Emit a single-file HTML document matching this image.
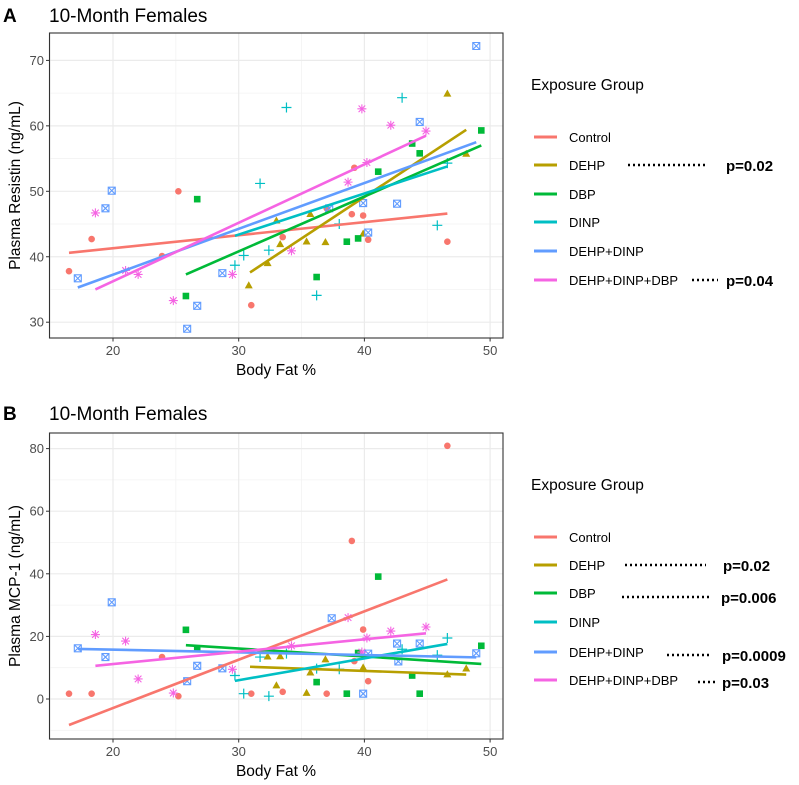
<!DOCTYPE html>
<html><head><meta charset="utf-8"><style>
body{margin:0;background:#fff;font-family:"Liberation Sans",Arial,sans-serif}
svg{display:block}
</style></head><body>
<svg id="c" width="799" height="785" viewBox="0 0 799 785"></svg>
<script>
const groups=["Control","DEHP","DBP","DINP","DEHP+DINP","DEHP+DINP+DBP"];
const colors=["#F8766D","#B79F00","#00BA38","#00BFC4","#619CFF","#F564E3"];
const shapes=["circle","triangle","square","plus","boxx","star"];
// Panel A (Resistin)
const aCtrlX=[16.5,18.3,23.9,25.2,31.0,33.5,37.0,39.0,39.2,39.9,40.3,46.6];
const aCtrlY=[37.8,42.7,40.1,50.0,32.6,43.0,47.4,46.5,53.6,46.3,42.6,42.3];
const aDehpX=[30.8,32.3,33.0,33.3,35.4,35.7,36.9,39.9,46.6,48.1];
const aDehpY=[35.6,39.0,45.5,41.9,42.3,46.5,42.2,43.5,64.9,55.7];
const aDbpX=[25.8,26.7,36.2,38.6,39.5,41.1,43.8,44.4,49.3];
const aDbpY=[34.0,48.8,36.9,42.3,42.8,53.0,57.3,55.8,59.3];
const aDinpX=[33.8,31.7,32.4,29.7,30.4,36.2,38.0,43.0,45.8,46.6];
const aDinpY=[62.8,51.2,41.0,38.7,40.2,34.1,45.0,64.3,44.8,54.3];
const aDdX=[17.2,19.4,19.9,25.9,26.7,28.7,37.2,39.9,40.3,42.6,44.4,48.9];
const aDdY=[36.7,47.4,50.1,29.0,32.5,37.5,47.4,48.2,43.7,48.1,60.6,72.2];
const aDddX=[18.6,21.0,22.0,24.8,29.5,34.2,38.7,39.8,40.2,42.1,44.9];
const aDddY=[46.7,37.9,37.3,33.3,37.3,40.9,51.4,62.6,54.4,60.1,59.2];
const aFitX0=[16.5,30.9,25.8,29.7,17.2,18.6];
const aFitY0=[40.6,37.6,37.3,43.2,35.3,35.0];
const aFitX1=[46.6,48.1,49.3,46.6,48.9,44.9];
const aFitY1=[46.6,59.4,57.0,53.8,57.5,58.5];
// Panel B (MCP-1)
const bCtrlX=[16.5,18.3,23.9,25.2,31.0,33.5,37.0,39.0,39.2,39.9,40.3,46.6];
const bCtrlY=[1.7,1.7,13.4,0.9,1.7,2.3,1.7,50.5,12.1,22.2,5.7,80.9];
const bDehpX=[32.3,33.0,33.3,35.4,35.7,36.9,39.9,46.6,48.1];
const bDehpY=[13.5,4.3,13.6,1.9,8.4,12.6,10.0,7.8,9.7];
const bDbpX=[25.8,26.7,36.2,38.6,39.5,41.1,43.8,44.4,49.3];
const bDbpY=[22.1,16.1,5.4,1.7,14.7,39.1,7.5,1.7,17.0];
const bDinpX=[29.7,30.4,31.7,32.4,33.8,36.2,38.0,43.0,45.8,46.6];
const bDinpY=[7.5,1.7,13.4,0.9,14.5,9.7,9.5,15.9,14.0,19.5];
const bDdX=[17.2,19.4,19.9,25.9,26.7,28.7,37.4,39.9,40.3,42.6,42.7,44.4,48.9];
const bDdY=[16.2,13.4,30.9,5.7,10.6,9.8,25.8,1.7,14.5,17.7,12.0,17.7,14.6];
const bDddX=[18.6,21.0,22.0,24.8,29.5,34.2,38.7,39.8,40.2,42.1,44.9];
const bDddY=[20.6,18.5,6.4,1.9,9.5,17.0,26.0,15.0,19.5,21.7,23.0];
const bFitX0=[16.5,30.9,25.8,29.7,17.2,18.6];
const bFitY0=[-8.3,10.3,17.2,5.8,16.0,10.6];
const bFitX1=[46.6,48.1,49.3,46.6,48.9,44.9];
const bFitY1=[38.2,7.8,11.2,17.6,13.3,21.0];
const xTicks=[20,30,40,50];
const aYTicks=[30,40,50,60,70];
const bYTicks=[0,20,40,60,80];
const aP=["","p=0.02","","","","p=0.04"];
const bP=["","p=0.02","p=0.006","","p=0.0009","p=0.03"];

const NS="http://www.w3.org/2000/svg";
const svg=document.getElementById('c');
function el(tag,attrs,parent,text){const e=document.createElementNS(NS,tag);for(const k in attrs)e.setAttribute(k,attrs[k]);if(text!==undefined)e.textContent=text;(parent||svg).appendChild(e);return e;}

function panel(o){
  const g=el('g',{});
  
  
  const X=v=>113+(v-20)*12.57;
  const Y=v=>o.y0+(v-o.ymin)*o.k;
  el('rect',{x:49.5,y:o.top,width:453.5,height:o.bot-o.top,fill:'#fff'},g);
  for(let v=o.minorStart;v<=o.ymax;v+=o.minorStep){const y=Y(v);if(y>o.top&&y<o.bot)el('line',{x1:49.5,x2:503,y1:y,y2:y,stroke:'#f3f3f3','stroke-width':0.8},g);}
  [15,25,35,45].forEach(v=>el('line',{x1:X(v),x2:X(v),y1:o.top,y2:o.bot,stroke:'#f3f3f3','stroke-width':0.8},g));
  o.yt.forEach(v=>{const y=Y(v);el('line',{x1:49.5,x2:503,y1:y,y2:y,stroke:'#ebebeb','stroke-width':1.2},g);
    el('line',{x1:46,x2:49.5,y1:y,y2:y,stroke:'#333'},g);
    const t=el('text',{x:44,y:y+4.5,'text-anchor':'end','font-size':13,fill:'#4d4d4d'},g,String(v));
    });
  xTicks.forEach(v=>{const x=X(v);el('line',{x1:x,x2:x,y1:o.top,y2:o.bot,stroke:'#ebebeb','stroke-width':1.2},g);
    el('line',{x1:x,x2:x,y1:o.bot,y2:o.bot+3.5,stroke:'#333'},g);
    const t=el('text',{x:x,y:o.bot+17,'text-anchor':'middle','font-size':13,fill:'#4d4d4d'},g,String(v));
    });
  o.series.forEach((s,i)=>{
    const c=colors[i];
    const sg=el('g',{},g);
    
    
    s.x.forEach((xv,j)=>{const px=X(xv),py=Y(s.y[j]);drawShape(sg,shapes[i],px,py,c);});
  });
  o.series.forEach((s,i)=>{
    const l=el('line',{x1:X(o.fx0[i]),y1:Y(o.fy0[i]),x2:X(o.fx1[i]),y2:Y(o.fy1[i]),stroke:colors[i],'stroke-width':2.6},g);
    
  });
  el('rect',{x:49.5,y:o.top,width:453.5,height:o.bot-o.top,fill:'none',stroke:'#333','stroke-width':1.1},g);
  const xt=el('text',{x:276,y:o.bot+37,'text-anchor':'middle','font-size':15.5,fill:'#000'},g,'Body Fat %');
  
  const cy=(o.top+o.bot)/2;
  const yt=el('text',{x:0,y:0,'text-anchor':'middle','font-size':15.5,fill:'#000',transform:`translate(20,${cy}) rotate(-90)`},g,o.ytitle);
  
  const L=el('text',{x:3,y:o.titleY,'font-size':19,'font-weight':'bold',fill:'#000'},g,o.letter);
  
  const T=el('text',{x:49,y:o.titleY,'font-size':19,fill:'#000'},g,'10-Month Females');
  
  // legend
  const lg=el('g',{},g);
  
  el('text',{x:531,y:o.legY,'font-size':15.5,fill:'#000'},lg,'Exposure Group');
  groups.forEach((n,i)=>{
    const y=o.itemY[i];
    const eg=el('g',{},lg);
    
    el('line',{x1:534,x2:557,y1:y,y2:y,stroke:colors[i],'stroke-width':3},eg);
    const tt=el('text',{x:569,y:y+5,'font-size':13,fill:'#000'},eg,n);
    if(o.p[i]){
      const d=o.dots[i];
      el('line',{x1:d[0],x2:d[1],y1:y+o.pdy[i],y2:y+o.pdy[i],stroke:'#000','stroke-width':2.5,'stroke-dasharray':'2 3'},eg);
      el('text',{x:d[2],y:y+o.pdy[i]+6,'font-size':15,'font-weight':'bold',fill:'#000'},eg,o.p[i]);
    }
  });
}
function drawShape(g,s,x,y,c){
  let e;
  if(s==='circle')e=el('circle',{cx:x,cy:y,r:3.3,fill:c},g);
  else if(s==='triangle')e=el('polygon',{points:`${x},${y-4.3} ${x+4},${y+2.8} ${x-4},${y+2.8}`,fill:c},g);
  else if(s==='square')e=el('rect',{x:x-3.3,y:y-3.3,width:6.6,height:6.6,fill:c},g);
  else if(s==='plus'){e=el('path',{d:`M${x-5},${y}H${x+5}M${x},${y-5}V${y+5}`,stroke:c,'stroke-width':1.2,fill:'none'},g);}
  else if(s==='boxx'){e=el('path',{d:`M${x-3.5},${y-3.5}h7v7h-7zM${x-3.5},${y-3.5}l7,7M${x+3.5},${y-3.5}l-7,7`,stroke:c,'stroke-width':1.1,fill:'none'},g);}
  else {e=el('path',{d:`M${x-4.5},${y}H${x+4.5}M${x},${y-4.5}V${y+4.5}M${x-3.3},${y-3.3}L${x+3.3},${y+3.3}M${x+3.3},${y-3.3}L${x-3.3},${y+3.3}`,stroke:c,'stroke-width':1.1,fill:'none'},g);}
  
  
}
panel({name:'panel-a-resistin',letter:'A',titleY:22,top:33,bot:338,ymin:70,y0:60.4,k:-6.545,ymax:75,minorStart:25,minorStep:10,yt:aYTicks,
  ytitle:'Plasma Resistin (ng/mL)',legY:90,itemY:[137,165,194,222,251,280],p:aP,
  dots:[null,[628,707,726],null,null,null,[692,718,726]],pdy:[0,0,0,0,0,0],
  series:[{x:aCtrlX,y:aCtrlY},{x:aDehpX,y:aDehpY},{x:aDbpX,y:aDbpY},{x:aDinpX,y:aDinpY},{x:aDdX,y:aDdY},{x:aDddX,y:aDddY}],
  fx0:aFitX0,fy0:aFitY0,fx1:aFitX1,fy1:aFitY1});
panel({name:'panel-b-mcp1',letter:'B',titleY:420,top:433,bot:739,ymin:0,y0:699,k:-3.13,ymax:90,minorStart:-10,minorStep:20,yt:bYTicks,
  ytitle:'Plasma MCP-1 (ng/mL)',legY:490,itemY:[537,565,593,622,652,680],p:bP,
  dots:[null,[625,706,723],[622,709,721],null,[667,709,722],[698,718,722]],pdy:[0,0,4,0,3,2],
  series:[{x:bCtrlX,y:bCtrlY},{x:bDehpX,y:bDehpY},{x:bDbpX,y:bDbpY},{x:bDinpX,y:bDinpY},{x:bDdX,y:bDdY},{x:bDddX,y:bDddY}],
  fx0:bFitX0,fy0:bFitY0,fx1:bFitX1,fy1:bFitY1});
</script>
</body></html>
